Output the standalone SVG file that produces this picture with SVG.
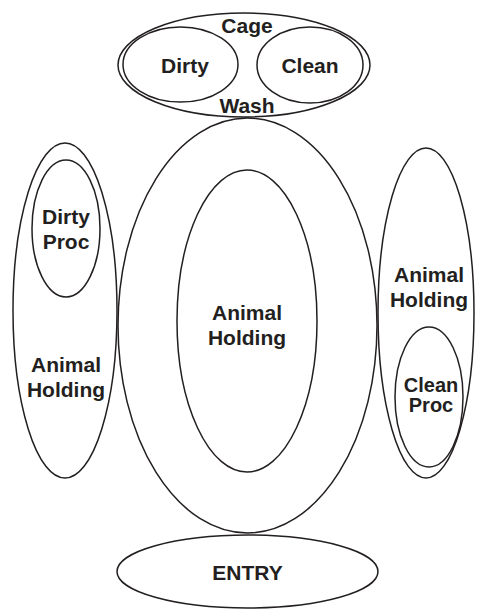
<svg xmlns="http://www.w3.org/2000/svg" width="479" height="611" viewBox="0 0 479 611">
<style>
.s{fill:none;stroke:#231f20;stroke-width:1.5}
.t{font-family:"Liberation Sans",Arial,sans-serif;font-weight:bold;font-size:21px;fill:#231f20;text-anchor:middle}
.sm{font-size:20px}
</style>
<rect width="479" height="611" fill="#fff"/>
<g id="cage-wash">
<ellipse class="s" cx="244" cy="65" rx="126" ry="52"/>
<text class="t" x="247" y="33">Cage</text>
<text class="t" x="247" y="113">Wash</text>
</g>
<g id="cage-dirty">
<ellipse class="s" cx="180.5" cy="64.5" rx="57.5" ry="37.5"/>
<text class="t" x="185" y="73">Dirty</text>
</g>
<g id="cage-clean">
<ellipse class="s" cx="310" cy="65" rx="53" ry="38"/>
<text class="t" x="310" y="73">Clean</text>
</g>
<g id="main-holding">
<ellipse class="s" cx="247.5" cy="325.5" rx="129.5" ry="207.5"/>
</g>
<g id="main-inner">
<ellipse class="s" cx="247" cy="321" rx="70" ry="151"/>
<text class="t" x="247" y="320">Animal</text>
<text class="t" x="247" y="345">Holding</text>
</g>
<g id="left-holding">
<ellipse class="s" cx="65" cy="310.5" rx="52" ry="167.5"/>
<text class="t" x="66" y="372">Animal</text>
<text class="t" x="66" y="397">Holding</text>
</g>
<g id="dirty-proc">
<ellipse class="s" cx="66" cy="228.5" rx="34" ry="68.5"/>
<text class="t" x="66" y="224">Dirty</text>
<text class="t" x="66" y="249">Proc</text>
</g>
<g id="right-holding">
<ellipse class="s" cx="426" cy="313" rx="48" ry="165"/>
<text class="t" x="429" y="282">Animal</text>
<text class="t" x="429" y="307">Holding</text>
</g>
<g id="clean-proc">
<ellipse class="s" cx="429" cy="397" rx="34" ry="70"/>
<text class="t sm" x="431" y="392">Clean</text>
<text class="t sm" x="431" y="412">Proc</text>
</g>
<g id="entry">
<ellipse class="s" cx="247.5" cy="571.5" rx="130.5" ry="36.5"/>
<text class="t" x="247.5" y="580">ENTRY</text>
</g>
<g id="connectors"></g>
</svg>
